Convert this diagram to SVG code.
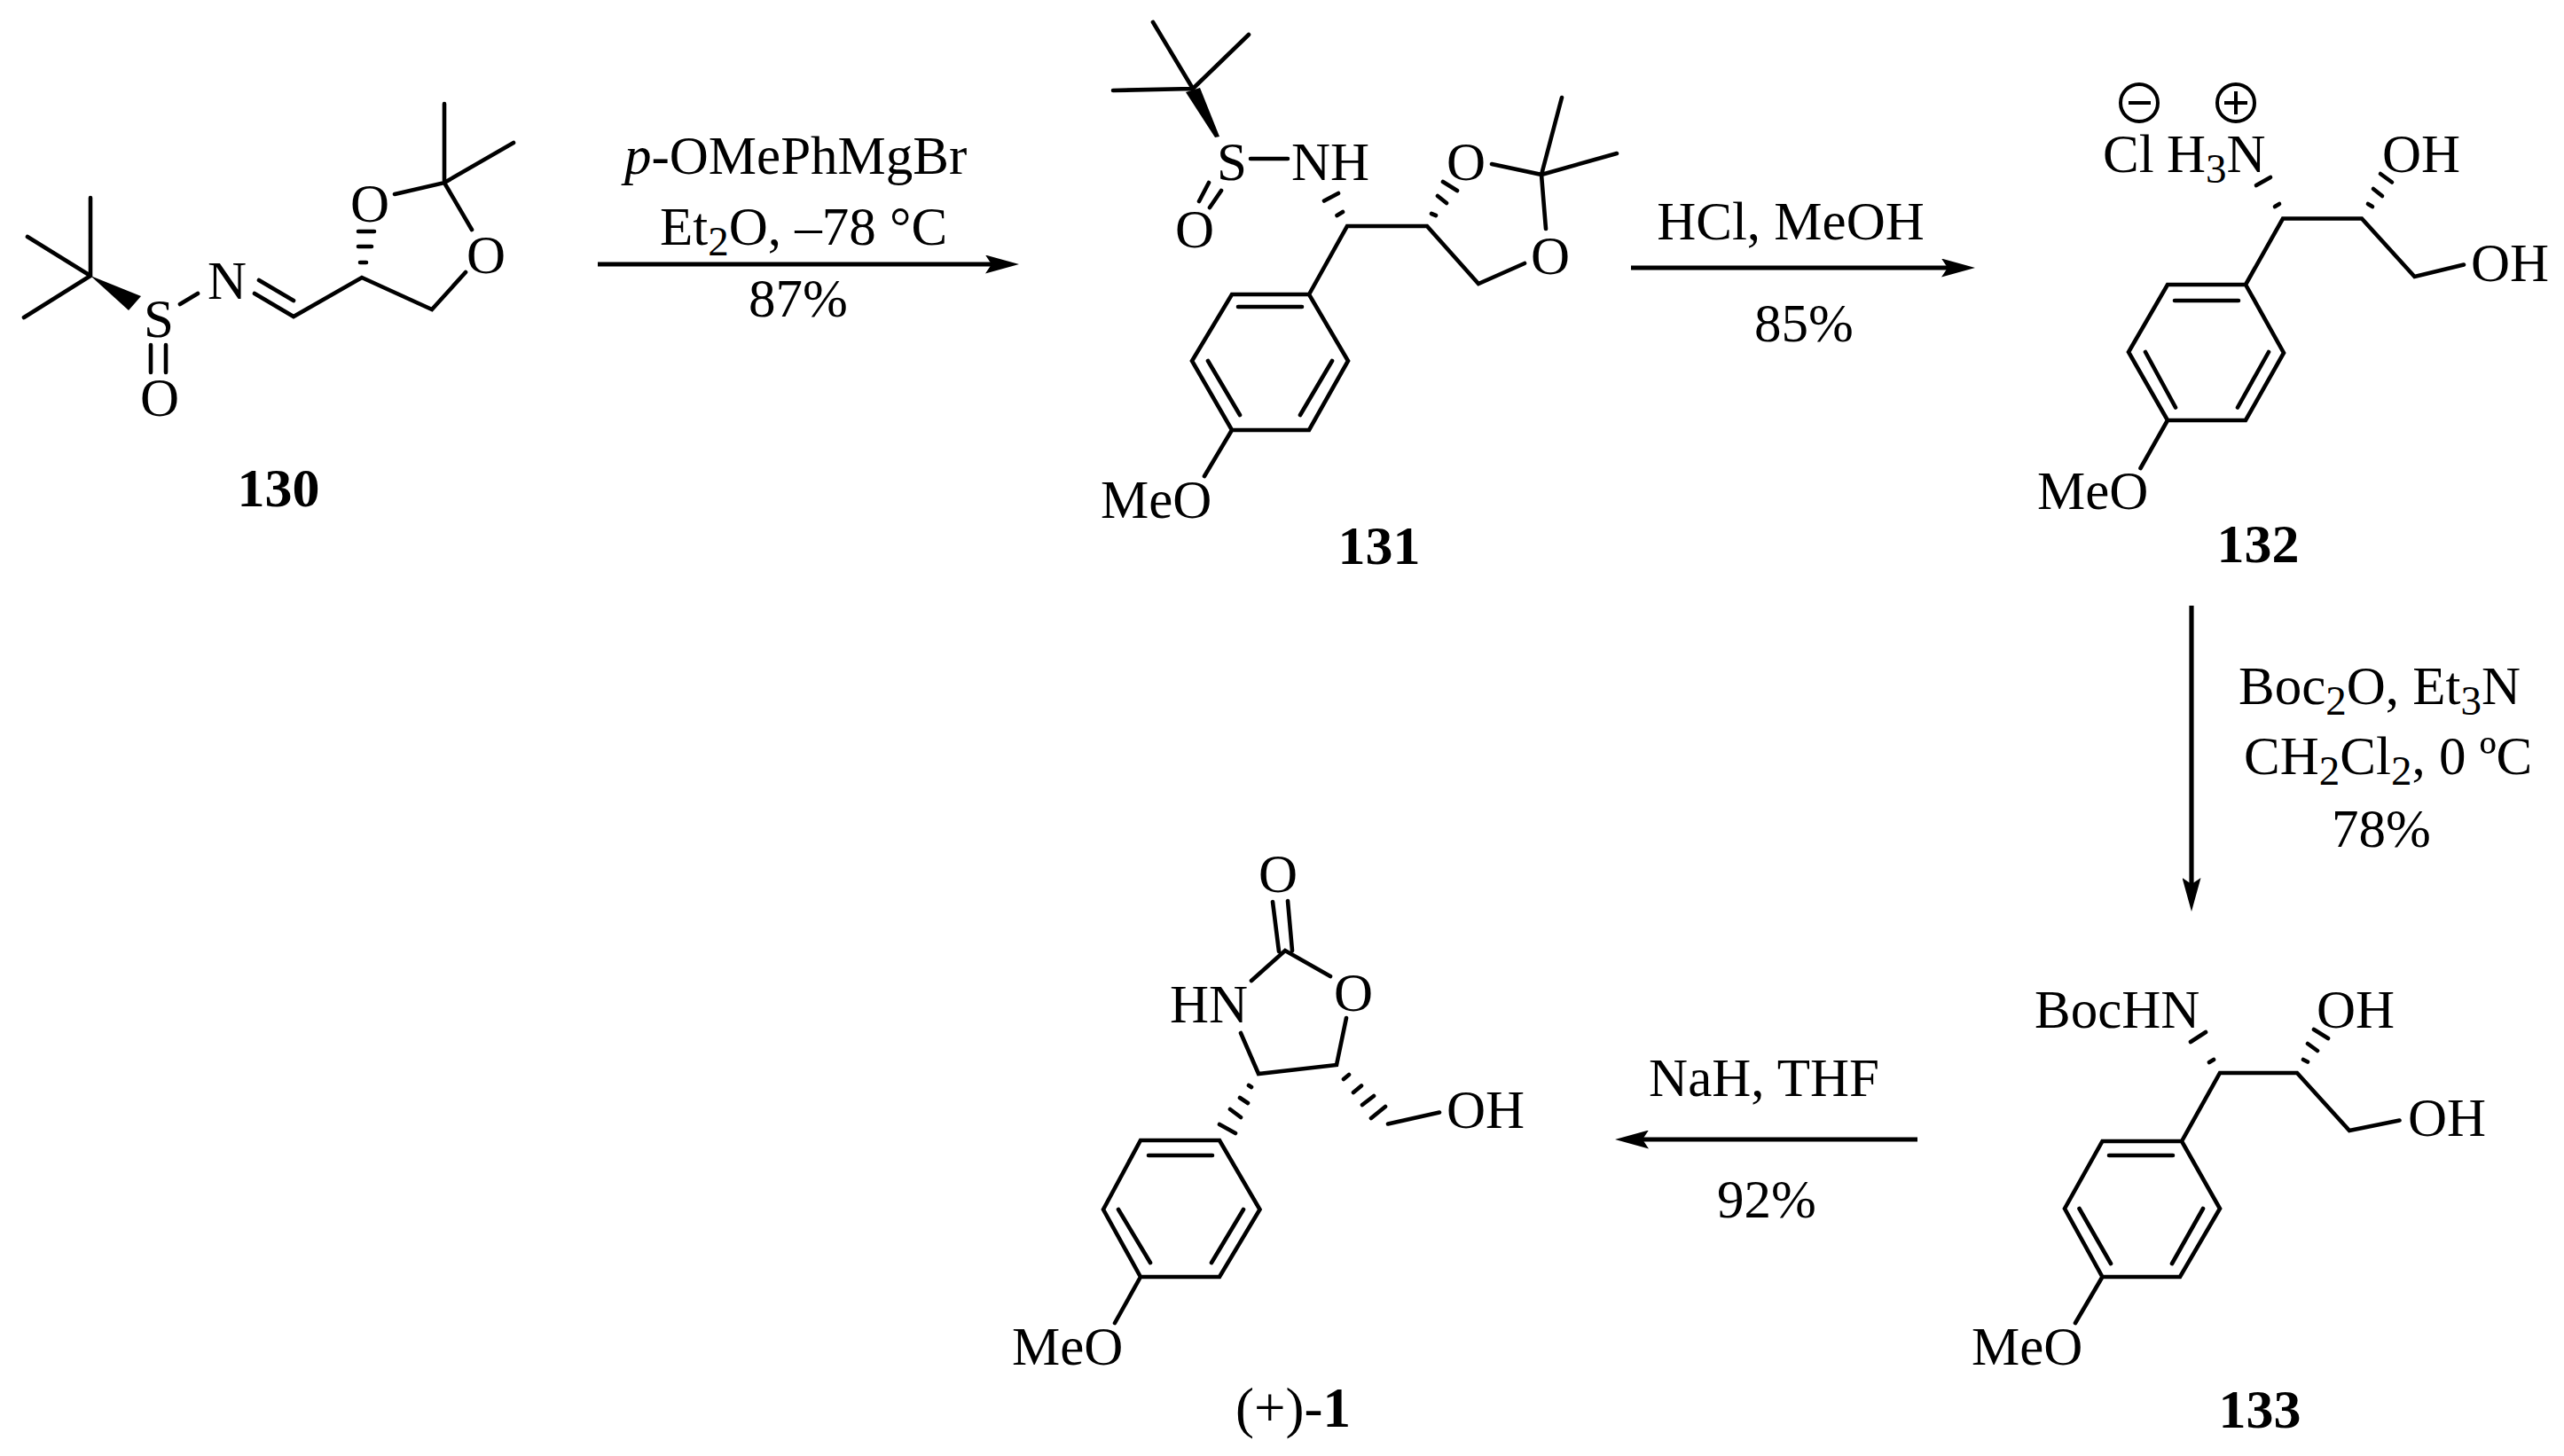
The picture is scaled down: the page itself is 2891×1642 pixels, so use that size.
<svg xmlns="http://www.w3.org/2000/svg" width="2891" height="1642" viewBox="0 0 2891 1642">
<style>
text{font-family:"Liberation Serif","Times New Roman",serif;font-size:61px;fill:#000}
.m{text-anchor:middle}
.b{font-weight:bold;font-size:62px}
.s{font-size:47px}
.bond{fill:none;stroke:#000;stroke-width:4.6;stroke-linecap:round;stroke-linejoin:miter}
.hash{fill:none;stroke:#000;stroke-width:4.6;stroke-linecap:round}
.wedge{fill:#000;stroke:none}
.arrow{fill:none;stroke:#000;stroke-width:5.2;marker-end:url(#head)}
.chg{fill:none;stroke:#000;stroke-width:4}
</style>
<defs>
<marker id="head" markerUnits="userSpaceOnUse" markerWidth="38" markerHeight="21" viewBox="0 0 38 21" refX="7" refY="10.5" orient="auto"><path d="M0 0L38 10.500L0 21L7 10.500Z" fill="#000"/></marker>
</defs>
<rect width="2891" height="1642" fill="#fff"/>
<g id="connectors">
<line class="arrow" x1="674" y1="298" x2="1118" y2="298"/>
<line class="arrow" x1="1839" y1="302" x2="2196" y2="302"/>
<line class="arrow" x1="2471" y1="683" x2="2471" y2="997"/>
<line class="arrow" x1="2162" y1="1285" x2="1852" y2="1285"/>
</g>
<g id="compound-130">
<path class="bond" d="M102 223V311M31 267L102 311M27 358L102 311"/>
<polygon class="wedge" points="102,311 159,334 145,350"/>
<path class="bond" d="M170 389V420M187 389V420M203 343L223 331M287 331L331 357L408 313L487 349L525 307M292 316L331 339M445 219L501 206L532 259M501 206V117M501 206L579 161"/>
<path class="hash" d="M406 296H413M404 278H419M404 261H422"/>
<text class="m" x="179" y="380">S</text>
<text class="m" x="180" y="469">O</text>
<text class="m" x="256" y="337">N</text>
<text class="m" x="548" y="308">O</text>
<text class="m" x="417" y="250">O</text>
<text class="b m" x="314" y="571">130</text>
</g>
<g id="reagents-130-131">
<text x="704" y="196"><tspan font-style="italic">p</tspan>-OMePhMgBr</text>
<text x="744" y="276">Et<tspan class="s" dy="12">2</tspan><tspan dy="-12">O, –78 °C</tspan></text>
<text class="m" x="900" y="357">87%</text>
</g>
<g id="compound-131">
<path class="bond" d="M1345 100L1300 25M1345 100L1408 39M1345 100L1255 102M1410 179H1452M1363 206L1352 227M1377 215L1364 234M1476 332L1519 255H1609L1667 320L1719 297M1743 258L1738 197L1682 185M1738 197L1761 110M1738 197L1823 173M1476 332H1389L1344 407L1389 485H1476L1520 407ZM1396 346H1468M1362 407L1398 468M1502 407L1466 468M1389 485L1358 537"/>
<polygon class="wedge" points="1337,104 1353,99 1375,154 1370,155"/>
<path class="hash" d="M1507.500 243L1514 239M1493 226.500L1509 218M1614 241L1619 243M1621 221L1631 229M1627 205L1643 215"/>
<text class="m" x="1389" y="203">S</text>
<text x="1456" y="203">NH</text>
<text class="m" x="1347" y="279">O</text>
<text class="m" x="1653" y="203">O</text>
<text class="m" x="1748" y="309">O</text>
<text x="1241" y="584">MeO</text>
<text class="b m" x="1555" y="636">131</text>
</g>
<g id="reagents-131-132">
<text class="m" x="2019" y="270">HCl, MeOH</text>
<text class="m" x="2034" y="385">85%</text>
</g>
<g id="compound-132">
<path class="bond" d="M2532 321L2574 246.500H2663L2722.500 312L2778 298.600M2532 321H2444L2400 397L2444 474H2532L2575 398ZM2452 339H2524M2419 397L2453 459.500M2558 397L2523 459.500M2444 474L2413.500 528"/>
<path class="hash" d="M2565 233L2570 230M2544 209L2560 200M2670 230L2675 233M2676 213L2686 221M2684 196L2697 205.500"/>
<ellipse class="chg" cx="2412" cy="116" rx="21" ry="21"/>
<path class="chg" d="M2400 116H2425"/>
<ellipse class="chg" cx="2521" cy="116" rx="21" ry="21"/>
<path class="chg" d="M2508 116H2534M2521 103V129"/>
<text x="2371" y="194">Cl</text>
<text x="2443" y="194">H<tspan class="s" dy="12">3</tspan><tspan dy="-12">N</tspan></text>
<text x="2686" y="194">OH</text>
<text x="2786" y="317">OH</text>
<text x="2297" y="574">MeO</text>
<text class="b m" x="2546" y="634">132</text>
</g>
<g id="reagents-132-133">
<text x="2524" y="794">Boc<tspan class="s" dy="12">2</tspan><tspan dy="-12">O, Et</tspan><tspan class="s" dy="12">3</tspan><tspan dy="-12">N</tspan></text>
<text x="2530" y="873">CH<tspan class="s" dy="12">2</tspan><tspan dy="-12">Cl</tspan><tspan class="s" dy="12">2</tspan><tspan dy="-12">, 0 ºC</tspan></text>
<text class="m" x="2685" y="955">78%</text>
</g>
<g id="compound-133">
<path class="bond" d="M2460 1287L2503 1210H2590L2649 1275L2705.500 1263.500M2460 1287H2370.500L2328 1363L2370.500 1440H2458L2503 1363ZM2378 1303H2450M2344.500 1363L2380 1425M2484 1363L2449 1425M2370.500 1440L2340 1492"/>
<path class="hash" d="M2491 1198L2496 1195M2470 1175L2487 1164M2597 1195L2602 1197.500M2602 1177L2613 1185M2609 1161L2625 1171"/>
<text x="2294" y="1159">BocHN</text>
<text x="2612" y="1159">OH</text>
<text x="2715" y="1281">OH</text>
<text x="2223" y="1539">MeO</text>
<text class="b m" x="2548" y="1610">133</text>
</g>
<g id="reagents-133-1">
<text class="m" x="1989" y="1236">NaH, THF</text>
<text class="m" x="1992" y="1373">92%</text>
</g>
<g id="compound-1">
<path class="bond" d="M1435 1017L1442 1073M1452 1016L1457 1072M1411 1106L1449 1072L1500 1101M1399 1165L1419 1211L1507 1201L1518 1148M1565 1267.500L1623 1254.500M1375 1286H1286L1244 1364L1286 1440H1375L1420.500 1364ZM1295 1303H1367M1261 1364L1297 1424M1402 1364L1366 1424M1286 1440L1257 1492"/>
<path class="hash" d="M1408 1224L1411 1226M1398 1238L1407 1244M1387 1251L1399 1260M1375 1268L1393 1278M1515 1217L1521 1212M1526 1232L1535 1224.500M1536 1246L1549 1236M1546 1261L1562 1248"/>
<text class="m" x="1441" y="1006">O</text>
<text class="m" x="1526" y="1140">O</text>
<text x="1319" y="1153">HN</text>
<text x="1631" y="1272">OH</text>
<text x="1141" y="1539">MeO</text>
<text x="1393" y="1609" font-size="63" style="font-size:63px">(+)-<tspan font-weight="bold">1</tspan></text>
</g>
</svg>
